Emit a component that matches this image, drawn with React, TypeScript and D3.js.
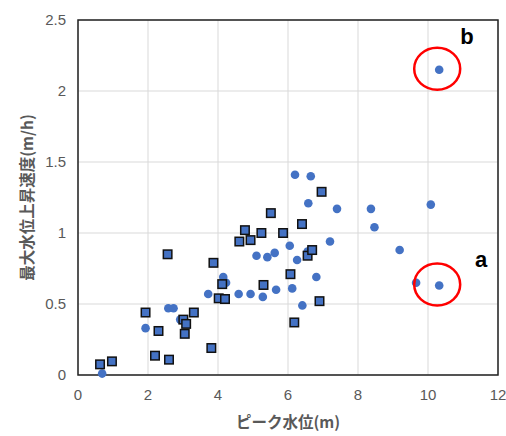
import React from "react";
import * as d3 from "d3";

const circleX = [0.69, 1.93, 2.58, 2.73, 2.92, 3.72, 4.15, 4.23, 4.59, 4.93, 5.1, 5.28, 5.41, 5.62, 5.66, 6.05, 6.12, 6.2, 6.26, 6.41, 6.56, 6.58, 6.65, 6.81, 7.2, 7.4, 8.37, 8.47, 9.19, 9.66, 10.08, 10.32, 10.32];
const circleY = [0.01, 0.33, 0.47, 0.47, 0.39, 0.57, 0.69, 0.65, 0.57, 0.57, 0.84, 0.55, 0.83, 0.86, 0.6, 0.91, 0.61, 1.41, 0.81, 0.49, 0.87, 1.21, 1.4, 0.69, 0.94, 1.17, 1.17, 1.04, 0.88, 0.65, 1.2, 0.63, 2.15];

const squareX = [0.63, 0.97, 1.93, 2.2, 2.3, 2.56, 2.6, 3.01, 3.05, 3.09, 3.31, 3.81, 3.87, 4.02, 4.12, 4.2, 4.61, 4.77, 4.93, 5.24, 5.3, 5.51, 5.86, 6.07, 6.18, 6.4, 6.56, 6.69, 6.9, 6.96];
const squareY = [0.075, 0.096, 0.44, 0.136, 0.31, 0.85, 0.108, 0.39, 0.29, 0.36, 0.44, 0.19, 0.79, 0.54, 0.64, 0.535, 0.94, 1.02, 0.95, 1.0, 0.634, 1.14, 1.0, 0.71, 0.37, 1.063, 0.84, 0.88, 0.52, 1.29];

const xTicks = [0, 2, 4, 6, 8, 10, 12];
const yTicks = [0, 0.5, 1, 1.5, 2, 2.5];

const annotations = [
  { label: "a", x: 10.32, y: 0.63 },
  { label: "b", x: 10.32, y: 2.15 },
];

const W = 506;
const H = 436;
const left = 78;
const right = 498;
const top = 20;
const bottom = 375;

export default function App() {
  const x = d3.scaleLinear().domain([0, 12]).range([left, right]);
  const y = d3.scaleLinear().domain([0, 2.5]).range([bottom, top]);
  const circles = circleX.map((v, i) => ({ x: v, y: circleY[i] }));
  const squares = squareX.map((v, i) => ({ x: v, y: squareY[i] }));
  const font = "'Liberation Sans', Arial, sans-serif";
  const jpFont = "'Noto Sans CJK JP', 'Liberation Sans', sans-serif";
  const gray = "#595959";
  const s = 8.5;
  return (
    <div style={{ position: "fixed", left: 0, top: 0 }}>
      <svg width={W} height={H} style={{ display: "block", background: "#fff" }}>
        {xTicks.map((t) => (
          <line key={"gx" + t} x1={x(t)} x2={x(t)} y1={top} y2={bottom} stroke="#d9d9d9" strokeWidth={1} />
        ))}
        {yTicks.map((t) => (
          <line key={"gy" + t} x1={left} x2={right} y1={y(t)} y2={y(t)} stroke="#d9d9d9" strokeWidth={1} />
        ))}
        <rect x={left} y={top} width={right - left} height={bottom - top} fill="none" stroke="#222" strokeWidth={1.5} />
        {xTicks.map((t) => (
          <text key={"tx" + t} x={x(t)} y={bottom + 25} textAnchor="middle" fontFamily={font} fontSize={15} fill={gray}>
            {t}
          </text>
        ))}
        {yTicks.map((t) => (
          <text key={"ty" + t} x={left - 12} y={y(t) + 5} textAnchor="end" fontFamily={font} fontSize={15} fill={gray}>
            {t}
          </text>
        ))}
        {circles.map((d, i) => (
          <circle key={"c" + i} cx={x(d.x)} cy={y(d.y)} r={4.3} fill="#4472C4" />
        ))}
        {squares.map((d, i) => (
          <rect key={"s" + i} x={x(d.x) - s / 2} y={y(d.y) - s / 2} width={s} height={s} fill="#4472C4" stroke="#111" strokeWidth={1.5} />
        ))}
        {annotations.map((a) => (
          <ellipse key={"e" + a.label} cx={x(a.x) - 2} cy={y(a.y) - 1} rx={23} ry={21} fill="none" stroke="#ff0000" strokeWidth={2.5} />
        ))}
        <text x={481} y={267} textAnchor="middle" fontFamily={font} fontWeight="bold" fontSize={22} fill="#000">a</text>
        <text x={467} y={44} textAnchor="middle" fontFamily={font} fontWeight="bold" fontSize={22} fill="#000">b</text>
        <text x={(left + right) / 2} y={428} textAnchor="middle" fontFamily={jpFont} fontWeight="bold" fontSize={15.5} fill={gray}>
          ピーク水位(m)
        </text>
        <text
          transform={`translate(33, ${(top + bottom) / 2}) rotate(-90)`}
          textAnchor="middle"
          fontFamily={jpFont}
          fontWeight="bold"
          fontSize={15.5}
          fill={gray}
        >
          最大水位上昇速度(m/h)
        </text>
      </svg>
    </div>
  );
}
